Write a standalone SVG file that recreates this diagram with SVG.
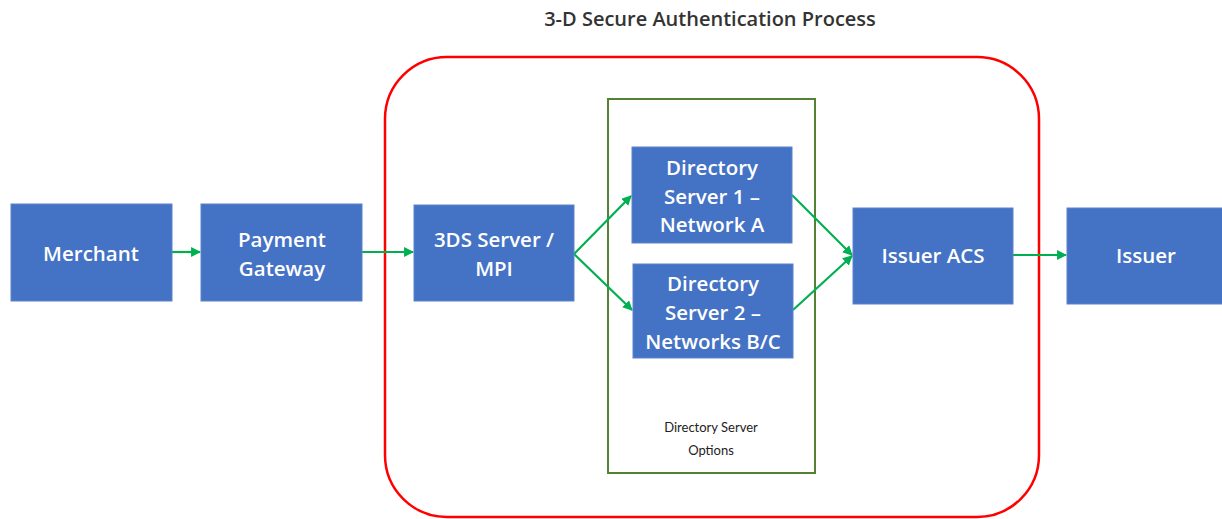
<svg xmlns="http://www.w3.org/2000/svg" width="1222" height="519" viewBox="0 0 1222 519">
<style>
.box{fill:#4472C4;stroke:#5B83CC;stroke-width:1}
.lbl{font-family:"Open Sans",Lato,"Liberation Sans",sans-serif;font-weight:600;font-size:20.5px;fill:#FFFFFF;text-anchor:middle;dominant-baseline:central}
.conn{stroke:#00B050;stroke-width:2.2;fill:none;marker-end:url(#ah)}
.small{font-family:Lato,"Open Sans","Liberation Sans",sans-serif;font-size:13px;fill:#222;text-anchor:middle;dominant-baseline:central}
</style>
<defs>
<marker id="ah" viewBox="0 0 10 10" refX="9" refY="5" markerWidth="4.5" markerHeight="4.5" orient="auto" markerUnits="strokeWidth">
<path d="M0,0 L10,5 L0,10 z" fill="#00B050"/>
</marker>
</defs>
<rect width="1222" height="519" fill="#FFFFFF"/>
<text x="710" y="18" font-family="'Open Sans',Lato,'Liberation Sans',sans-serif" font-weight="600" font-size="20" fill="#333" text-anchor="middle" dominant-baseline="central">3-D Secure Authentication Process</text>
<g id="group-3ds">
<rect x="385" y="57" width="654" height="460" rx="62" ry="62" fill="none" stroke="#FF0000" stroke-width="2.5"/>
</g>
<g id="group-ds-options">
<rect x="608" y="99" width="207" height="374" fill="none" stroke="#548235" stroke-width="2"/>
<text class="small"><tspan x="711" y="427">Directory Server</tspan><tspan x="711" y="450">Options</tspan></text>
</g>
<g id="connectors">
<line class="conn" x1="172" y1="252" x2="200" y2="252"/>
<line class="conn" x1="362" y1="252" x2="413" y2="252"/>
<line class="conn" x1="574" y1="254" x2="631" y2="196"/>
<line class="conn" x1="574" y1="254" x2="632" y2="310"/>
<line class="conn" x1="792" y1="195" x2="852" y2="255"/>
<line class="conn" x1="793" y1="310" x2="852" y2="256"/>
<line class="conn" x1="1013" y1="255" x2="1066" y2="255"/>
</g>
<g id="merchant">
<rect class="box" x="11" y="204" width="161" height="97"/>
<text class="lbl" x="91" y="253">Merchant</text>
</g>
<g id="payment-gateway">
<rect class="box" x="201" y="204" width="161" height="97"/>
<text class="lbl"><tspan x="282" y="239">Payment</tspan><tspan x="282" y="268">Gateway</tspan></text>
</g>
<g id="server-3ds">
<rect class="box" x="414" y="205" width="160" height="96"/>
<text class="lbl"><tspan x="494" y="239">3DS Server /</tspan><tspan x="494" y="268">MPI</tspan></text>
</g>
<g id="ds1">
<rect class="box" x="632" y="147" width="160" height="96"/>
<text class="lbl"><tspan x="712" y="167">Directory</tspan><tspan x="712" y="196">Server 1 –</tspan><tspan x="712" y="224">Network A</tspan></text>
</g>
<g id="ds2">
<rect class="box" x="633" y="264" width="160" height="94"/>
<text class="lbl"><tspan x="713" y="283">Directory</tspan><tspan x="713" y="312">Server 2 –</tspan><tspan x="713" y="341">Networks B/C</tspan></text>
</g>
<g id="issuer-acs">
<rect class="box" x="853" y="208" width="160" height="96"/>
<text class="lbl" x="933" y="255">Issuer ACS</text>
</g>
<g id="issuer">
<rect class="box" x="1067" y="208" width="160" height="96"/>
<text class="lbl" x="1146" y="255">Issuer</text>
</g>
</svg>
